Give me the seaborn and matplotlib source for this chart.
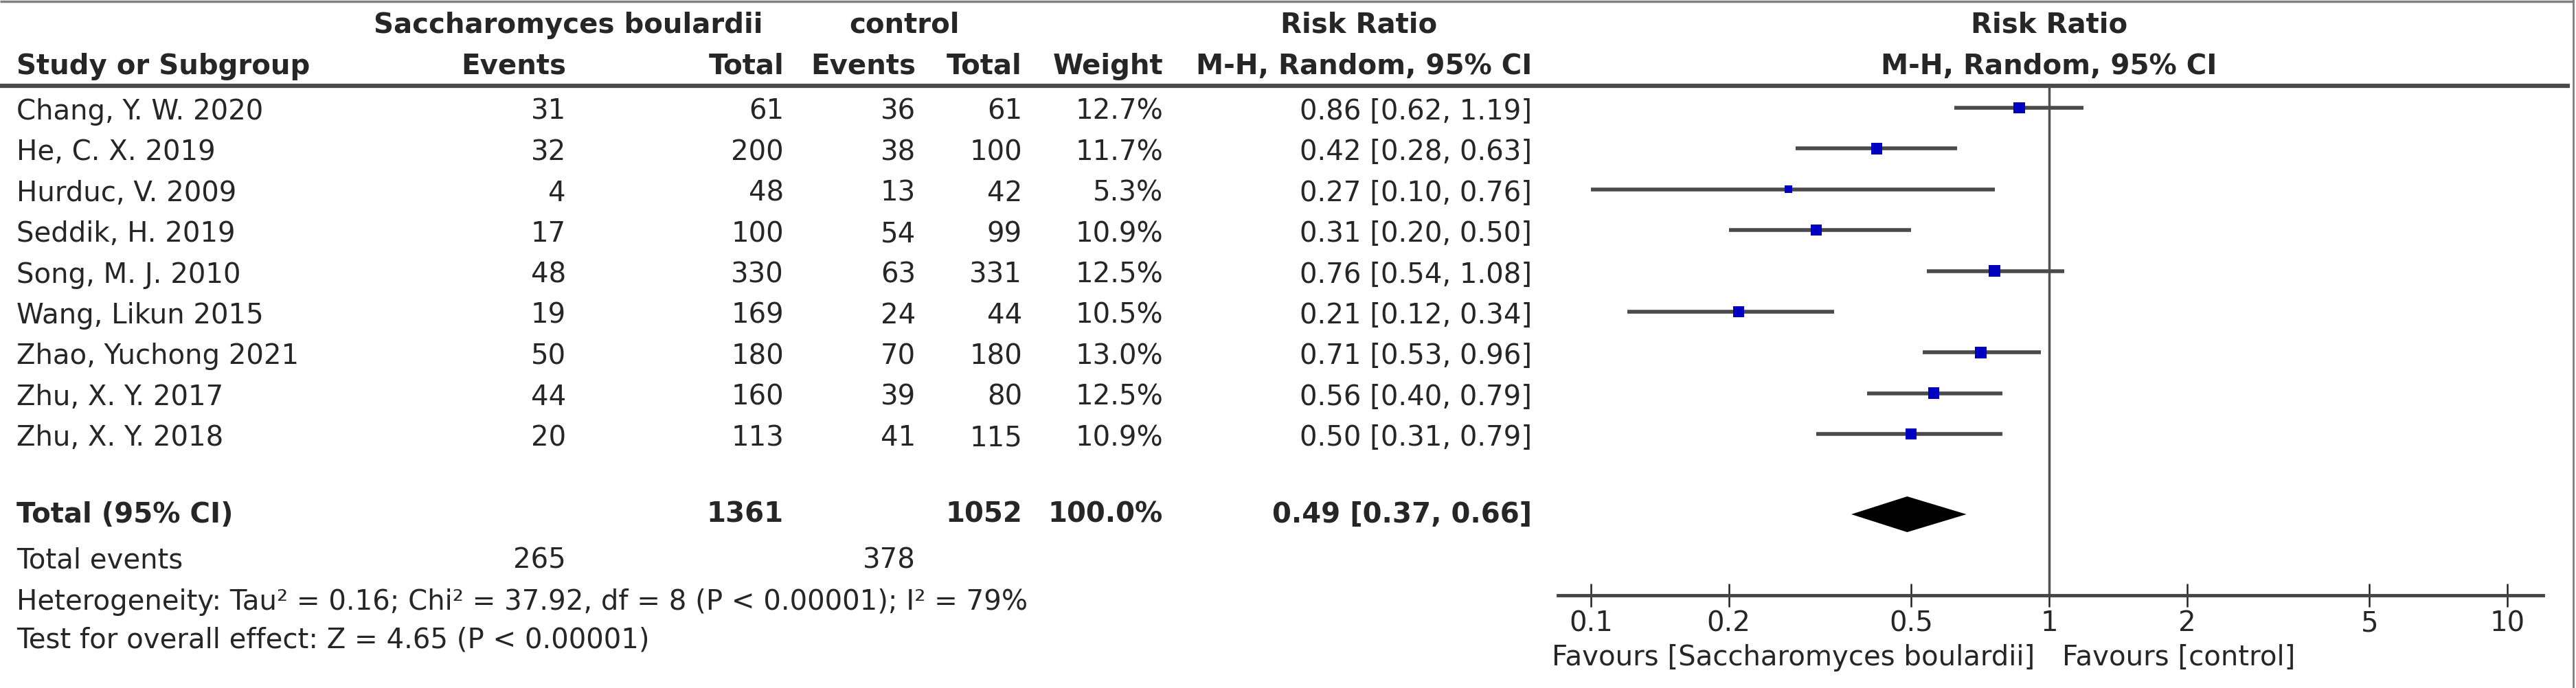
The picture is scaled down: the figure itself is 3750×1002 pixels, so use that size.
import numpy as np
import matplotlib
matplotlib.use("Agg")
import matplotlib.pyplot as plt
from matplotlib.ticker import NullLocator, FixedLocator
import seaborn as sns

# study-level data
studies = ["Chang, Y. W. 2020", "He, C. X. 2019", "Hurduc, V. 2009", "Seddik, H. 2019",
           "Song, M. J. 2010", "Wang, Likun 2015", "Zhao, Yuchong 2021", "Zhu, X. Y. 2017",
           "Zhu, X. Y. 2018"]
sb_events = [31, 32, 4, 17, 48, 19, 50, 44, 20]
sb_total = [61, 200, 48, 100, 330, 169, 180, 160, 113]
ctl_events = [36, 38, 13, 54, 63, 24, 70, 39, 41]
ctl_total = [61, 100, 42, 99, 331, 44, 180, 80, 115]
weight = [12.7, 11.7, 5.3, 10.9, 12.5, 10.5, 13.0, 12.5, 10.9]
rr = [0.86, 0.42, 0.27, 0.31, 0.76, 0.21, 0.71, 0.56, 0.50]
ci_low = [0.62, 0.28, 0.10, 0.20, 0.54, 0.12, 0.53, 0.40, 0.31]
ci_high = [1.19, 0.63, 0.76, 0.50, 1.08, 0.34, 0.96, 0.79, 0.79]

# pooled result
total_sb = 1361
total_ctl = 1052
total_weight = "100.0%"
total_events_sb = 265
total_events_ctl = 378
pooled_rr = 0.49
pooled_low = 0.37
pooled_high = 0.66
heterogeneity = "Heterogeneity: Tau² = 0.16; Chi² = 37.92, df = 8 (P < 0.00001); I² = 79%"
overall_test = "Test for overall effect: Z = 4.65 (P < 0.00001)"

tick_values = [0.1, 0.2, 0.5, 1, 2, 5, 10]
tick_labels = ["0.1", "0.2", "0.5", "1", "2", "5", "10"]
favours_left = "Favours [Saccharomyces boulardii]"
favours_right = "Favours [control]"

sns.set_style("white")
plt.rcParams["font.family"] = ["DejaVu Sans"]
FS = 29

W, H = 3750, 1003
ROW0, ROWH = 163.0, 59.4  # pixel y of first row and row spacing


def row(px):
    return (px - ROW0) / ROWH


y_top, y_bot = row(0), row(H)
rows = np.arange(len(studies))
y_total = row(750)
y_events = row(817)
y_het = row(877)
y_test = row(933)
y_head1 = row(37)
y_head2 = row(97)
y_sep = row(126)
y_axis = row(868)
y_fav = row(958)

fig = plt.figure(figsize=(W / 100, H / 100), dpi=100)

# table layer in pixel x / row y
ax_t = fig.add_axes([0, 0, 1, 1])
ax_t.set_xlim(0, W)
ax_t.set_ylim(y_bot, y_top)
ax_t.axis("off")

# column anchors (pixels)
x_study = 24
x_ev1, x_tot1, x_ev2, x_tot2, x_w, x_ci = 824, 1141, 1333, 1488, 1693, 2230

bold = dict(fontsize=FS, fontweight="bold", va="center")
reg = dict(fontsize=FS, va="center")

ax_t.text(827, y_head1, "Saccharomyces boulardii", ha="center", **bold)
ax_t.text(1316, y_head1, "control", ha="center", **bold)
ax_t.text(1978, y_head1, "Risk Ratio", ha="center", **bold)
ax_t.text(2983, y_head1, "Risk Ratio", ha="center", **bold)

ax_t.text(x_study, y_head2, "Study or Subgroup", ha="left", **bold)
for x, s in [(x_ev1, "Events"), (x_tot1, "Total"), (x_ev2, "Events"),
             (x_tot2, "Total"), (x_w, "Weight"), (x_ci, "M-H, Random, 95% CI")]:
    ax_t.text(x, y_head2, s, ha="right", **bold)
ax_t.text(2983, y_head2, "M-H, Random, 95% CI", ha="center", **bold)

for i, name in enumerate(studies):
    y = rows[i]
    ax_t.text(x_study, y, name, ha="left", **reg)
    ax_t.text(x_ev1, y, str(sb_events[i]), ha="right", **reg)
    ax_t.text(x_tot1, y, str(sb_total[i]), ha="right", **reg)
    ax_t.text(x_ev2, y, str(ctl_events[i]), ha="right", **reg)
    ax_t.text(x_tot2, y, str(ctl_total[i]), ha="right", **reg)
    ax_t.text(x_w, y, f"{weight[i]:.1f}%", ha="right", **reg)
    ax_t.text(x_ci, y, f"{rr[i]:.2f} [{ci_low[i]:.2f}, {ci_high[i]:.2f}]", ha="right", **reg)

ax_t.text(x_study, y_total, "Total (95% CI)", ha="left", **bold)
ax_t.text(x_tot1, y_total, str(total_sb), ha="right", **bold)
ax_t.text(x_tot2, y_total, str(total_ctl), ha="right", **bold)
ax_t.text(x_w, y_total, total_weight, ha="right", **bold)
ax_t.text(x_ci, y_total, f"{pooled_rr:.2f} [{pooled_low:.2f}, {pooled_high:.2f}]", ha="right", **bold)

ax_t.text(x_study, y_events, "Total events", ha="left", **reg)
ax_t.text(x_ev1, y_events, str(total_events_sb), ha="right", **reg)
ax_t.text(x_ev2, y_events, str(total_events_ctl), ha="right", **reg)
ax_t.text(x_study, y_het, heterogeneity, ha="left", **reg)
ax_t.text(x_study, y_test, overall_test, ha="left", **reg)

# frame lines
ax_t.hlines(row(3), 0, 3746, color="#808080", lw=2.5)
ax_t.vlines(3746, y_top, y_bot, color="#808080", lw=2)
ax_t.hlines(y_sep, 0, 3741, color="#4a4a4a", lw=4.5)

# forest panel, log scale: x=1 at 2983 px, 667 px per decade
px_l, px_r = 2250, 3720
ax = fig.add_axes([px_l / W, 0, (px_r - px_l) / W, 1])
ax.patch.set_alpha(0)
ax.set_xscale("log")
ax.set_xlim(10 ** ((px_l - 2983) / 667), 10 ** ((px_r - 2983) / 667))
ax.set_ylim(y_bot, y_top)

mark_y = rows - 5 / ROWH  # marks sit a few pixels above the text centre
ax.vlines(1, y_sep, y_axis, color="#505050", lw=2.5)
ax.hlines(mark_y, ci_low, ci_high, color="#4a4a4a", lw=4)
sns.scatterplot(x=rr, y=mark_y, size=weight, sizes=(0, 13.0 * 11.7), size_norm=(0, 13.0),
                marker="s", color="#0000c0", edgecolor="none", legend=False, ax=ax, zorder=3)

d_h = 26 / ROWH
ax.fill([pooled_low, pooled_rr, pooled_high, pooled_rr],
        [y_total, y_total - d_h, y_total, y_total + d_h], color="black", lw=0)

for side in ["left", "right", "top"]:
    ax.spines[side].set_visible(False)
ax.spines["bottom"].set_position(("data", y_axis))
ax.spines["bottom"].set_bounds(10 ** ((2268 - 2983) / 667), 10 ** ((3702 - 2983) / 667))
ax.spines["bottom"].set_linewidth(3.5)
ax.spines["bottom"].set_color("#444444")
ax.xaxis.set_major_locator(FixedLocator(tick_values))
ax.xaxis.set_minor_locator(NullLocator())
ax.set_xticklabels(tick_labels)
ax.tick_params(axis="x", direction="inout", length=25, width=1.8, color="#222222",
               pad=2, labelsize=FS, bottom=True)
ax.set_yticks([])
ax.set_xlabel("")
ax.set_ylabel("")

ax.annotate(favours_left, xy=(1, y_fav), xytext=(-15, 0), textcoords="offset points",
            ha="right", va="center", fontsize=FS)
ax.annotate(favours_right, xy=(1, y_fav), xytext=(14, 0), textcoords="offset points",
            ha="left", va="center", fontsize=FS)

fig.savefig("out.png", dpi=100, facecolor="white")
